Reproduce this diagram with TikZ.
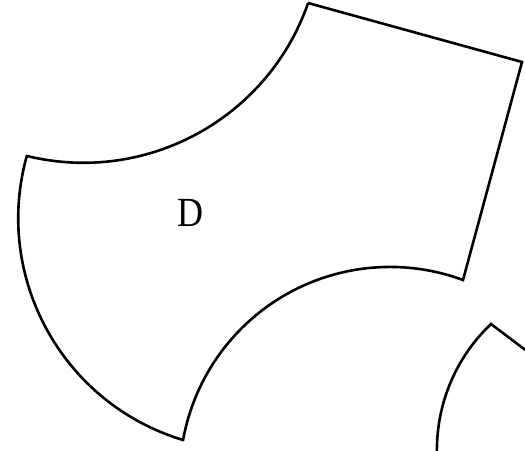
\documentclass[tikz,border=0pt]{standalone}
\usepackage{fontspec}
\setmainfont{Liberation Serif}
\begin{document}
\begin{tikzpicture}[x=1pt,y=1pt,
  outline/.style={draw=black,line width=2.6pt,line join=miter},
  lbl/.style={font=\fontsize{36}{40}\selectfont,inner sep=0pt,yscale=1.15}]
\useasboundingbox (0,0) rectangle (525,450);
\fill[white] (0,0) rectangle (525,450);
\clip (0,0) rectangle (525,450);
% vertices of region D
\coordinate (A) at (308,447);
\coordinate (B) at (522,388);
\coordinate (C) at (463,170);
\coordinate (E) at (183,10);
\coordinate (F) at (27,294);
\draw[outline] (A) -- (B) -- (C)
  arc[start angle=69.7, end angle=169.8, radius=210.3] -- (E)
  arc[start angle=253.2, end angle=164.5, radius=231.7] -- (F)
  arc[start angle=256.3, end angle=340.8, radius=238.0] -- cycle;
% neighbouring region at lower right
\coordinate (G) at (491,126);
\coordinate (H) at (540,89);
\draw[outline] (H) -- (G) arc[start angle=133.5, end angle=186, radius=173.5];
\node[lbl] (D) at (190.5,237.5) {D};
\end{tikzpicture}
\end{document}
